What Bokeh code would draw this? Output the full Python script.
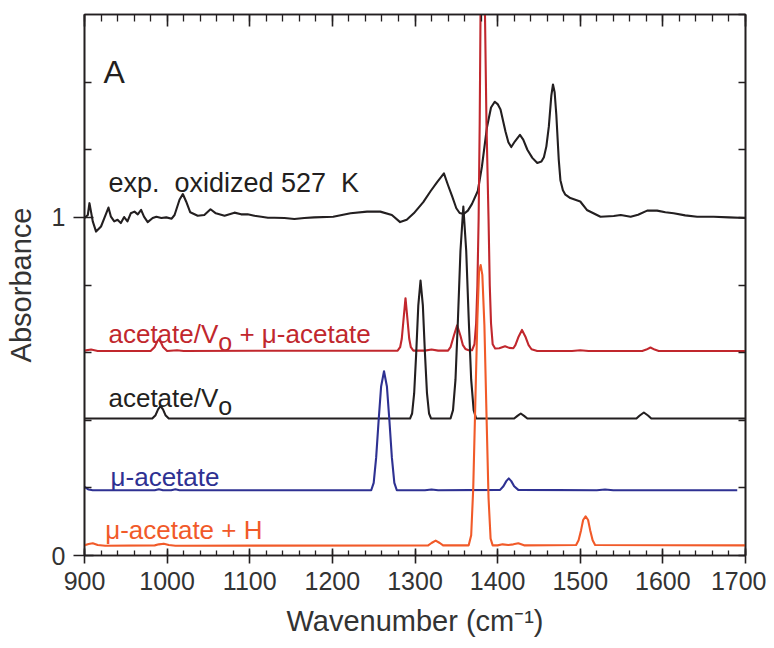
import math
from bokeh.plotting import figure
from bokeh.models import LinearAxis, FixedTicker, Label
from bokeh.embed import file_html
from bokeh.resources import INLINE

# ---------------- data ----------------
# experimental spectrum, oxidized 527 K
exp_wn = [900, 904, 906, 910, 914, 920, 924, 929, 932, 936, 940, 944, 948, 952, 956,
          960.5, 964.5, 968.5, 972, 976.5, 982.5, 987, 993, 999, 1005.5, 1009, 1015,
          1019, 1023, 1028, 1037, 1045, 1052.5, 1059, 1069.5, 1081.5, 1089.5, 1097.5,
          1105.5, 1114, 1122, 1130, 1142, 1154, 1166, 1178, 1201, 1222, 1242, 1258,
          1272, 1282, 1290, 1298.5, 1310, 1319, 1327, 1335, 1340, 1345, 1350, 1354,
          1359, 1364, 1369, 1376, 1381, 1387, 1392, 1396.5, 1400, 1403.5, 1409.5,
          1413, 1416.5, 1421, 1427, 1431, 1436, 1442, 1448, 1453, 1456, 1459, 1462,
          1465, 1467, 1469, 1471, 1474, 1476, 1479, 1482, 1488, 1500, 1508, 1524.5,
          1540.5, 1549, 1561, 1570, 1581, 1593, 1603, 1613, 1627, 1641.5, 1661.5,
          1680, 1700]
exp_abs = [0.998, 1.007, 1.042, 0.988, 0.958, 0.973, 0.998, 1.029, 1.002, 0.988, 0.993,
           0.983, 1.001, 0.988, 1.012, 1.017, 1.009, 1.022, 1.002, 0.986, 0.998, 1.002,
           0.998, 1.000, 0.996, 1.007, 1.052, 1.069, 1.047, 1.015, 1.005, 1.007, 1.024,
           1.012, 1.005, 1.014, 1.009, 1.009, 1.005, 1.002, 0.999, 0.999, 0.998, 0.995,
           0.998, 1.000, 1.002, 1.012, 1.017, 1.017, 1.007, 0.986, 0.993, 1.012, 1.045,
           1.078, 1.105, 1.130, 1.095, 1.062, 1.027, 1.013, 1.010, 1.020, 1.040, 1.078,
           1.150, 1.265, 1.325, 1.342, 1.335, 1.319, 1.254, 1.222, 1.208, 1.225, 1.244,
           1.230, 1.200, 1.176, 1.161, 1.165, 1.178, 1.210, 1.269, 1.360, 1.393, 1.370,
           1.305, 1.170, 1.110, 1.080, 1.067, 1.057, 1.047, 1.022, 1.002, 1.004, 1.007,
           1.002, 1.008, 1.020, 1.020, 1.015, 1.012, 1.006, 1.002, 1.002, 1.000, 0.998]

# simulated: acetate/Vo + mu-acetate (red)
red_wn = [900, 908, 916, 980, 985, 988, 990, 992, 995, 1000, 1012, 1020, 1279, 1282,
          1284, 1286, 1288.5, 1291, 1293, 1295, 1298, 1312, 1320, 1328, 1340, 1343,
          1347, 1351, 1355, 1358, 1361, 1365, 1369, 1372, 1374, 1375.5, 1377, 1378.3,
          1379.3, 1380.6, 1382, 1383.4, 1384.7, 1386.5, 1389, 1390.5, 1392, 1394, 1397,
          1402, 1409, 1414, 1419, 1421.5, 1425.5, 1429.5, 1433.5, 1437.5, 1441, 1448,
          1490, 1500, 1510, 1575, 1580, 1585, 1590, 1595, 1700]
red_abs = [0.606, 0.609, 0.605, 0.605, 0.617, 0.633, 0.640, 0.633, 0.617, 0.605, 0.607,
           0.605, 0.606, 0.616, 0.641, 0.695, 0.761, 0.695, 0.641, 0.616, 0.606, 0.606,
           0.609, 0.606, 0.606, 0.616, 0.650, 0.681, 0.650, 0.622, 0.611, 0.607, 0.607,
           0.625, 0.687, 0.798, 0.995, 1.278, 1.600, 1.863, 1.965, 1.863, 1.600, 1.278,
           0.995, 0.798, 0.687, 0.625, 0.612, 0.613, 0.619, 0.614, 0.613, 0.622, 0.648,
           0.667, 0.648, 0.622, 0.610, 0.605, 0.605, 0.607, 0.605, 0.605, 0.609, 0.615,
           0.609, 0.605, 0.605]

# simulated: acetate/Vo (black)
blk_wn = [900, 982, 986, 989, 992, 995, 998, 1002, 1294, 1296.5, 1299, 1301.5, 1304,
          1306.7, 1309.5, 1312, 1314.5, 1317, 1319.5, 1343, 1346, 1349, 1352, 1355,
          1358.5, 1362, 1365, 1368, 1371, 1374, 1420, 1424, 1428, 1432, 1436, 1568,
          1572, 1577, 1582, 1586, 1700]
blk_abs = [0.405, 0.405, 0.415, 0.432, 0.442, 0.432, 0.415, 0.405, 0.405, 0.420, 0.480,
           0.600, 0.740, 0.813, 0.740, 0.600, 0.480, 0.420, 0.405, 0.405, 0.430, 0.520,
           0.700, 0.900, 1.032, 0.900, 0.700, 0.520, 0.430, 0.405, 0.405, 0.413, 0.420,
           0.413, 0.405, 0.405, 0.414, 0.423, 0.414, 0.405, 0.405]

# simulated: mu-acetate (blue)
blu_wn = [900, 905, 910, 985, 990, 995, 1005, 1010, 1015, 1247, 1250, 1253, 1256, 1259,
          1262.5, 1266, 1269, 1272, 1275, 1278, 1312, 1320, 1328, 1403, 1407, 1410.5,
          1413.5, 1416.5, 1420, 1425, 1520, 1530, 1540, 1690]
blu_abs = [0.203, 0.195, 0.193, 0.193, 0.196, 0.193, 0.193, 0.196, 0.193, 0.193, 0.215,
           0.290, 0.400, 0.500, 0.545, 0.500, 0.400, 0.290, 0.215, 0.193, 0.193, 0.195,
           0.193, 0.194, 0.205, 0.220, 0.228, 0.220, 0.205, 0.194, 0.193, 0.195, 0.193,
           0.193]

# simulated: mu-acetate + H (orange)
org_wn = [900, 905, 910, 916, 925, 985, 990, 996, 1002, 1010, 1316, 1320, 1325, 1330,
          1334, 1365, 1368, 1370.5, 1373, 1375.5, 1377.5, 1379.5, 1381.5, 1384, 1386.5,
          1389, 1391.5, 1394, 1400, 1406, 1413, 1419, 1425, 1432, 1495, 1498, 1501,
          1503.5, 1506.5, 1509.5, 1512, 1515, 1518, 1700]
org_abs = [0.030, 0.034, 0.036, 0.031, 0.029, 0.030, 0.033, 0.035, 0.031, 0.029, 0.030,
           0.037, 0.044, 0.037, 0.030, 0.030, 0.060, 0.200, 0.450, 0.700, 0.840, 0.859,
           0.830, 0.680, 0.420, 0.170, 0.050, 0.030, 0.030, 0.033, 0.031, 0.033, 0.036,
           0.030, 0.031, 0.045, 0.075, 0.105, 0.116, 0.105, 0.075, 0.045, 0.031, 0.030]

x_major = [900, 1000, 1100, 1200, 1300, 1400, 1500, 1600, 1700]
y_labeled = [0, 1]
y_minor = [0.2, 0.4, 0.6, 0.8, 1.2, 1.4]
y_all = [0, 0.2, 0.4, 0.6, 0.8, 1.0, 1.2, 1.4, 1.6]

# ---------------- styling ----------------
FONT = "Liberation Sans"
INK = "#231f20"
C_RED = "#c1272d"
C_BLUE = "#2e3192"
C_ORANGE = "#f15a29"

x_minor = [v for v in range(900, 1701, 20)]

p = figure(width=766, height=640, x_range=(900, 1700), y_range=(0, 1.6),
           x_axis_type=None, y_axis_type=None,
           output_backend="svg", toolbar_location=None,
           min_border_left=84, min_border_right=21, min_border_top=14,
           min_border_bottom=85)
p.background_fill_color = "white"
p.border_fill_color = "white"
p.outline_line_color = INK
p.outline_line_width = 1.6

common = dict(axis_line_color=INK, axis_line_width=1.6,
              major_tick_line_color=INK, major_tick_line_width=1.6,
              minor_tick_line_color=INK, minor_tick_line_width=1.3,
              major_label_text_font=FONT, major_label_text_color="#333333")

bottom = LinearAxis(ticker=FixedTicker(ticks=x_major, minor_ticks=x_minor),
                    major_tick_in=7, major_tick_out=8, minor_tick_in=5, minor_tick_out=0,
                    major_label_text_font_size="25px", major_label_standoff=8,
                    axis_label="Wavenumber (cm\u207b\u00b9)",
                    axis_label_text_font=FONT, axis_label_text_font_size="29px",
                    axis_label_text_font_style="normal", axis_label_text_color="#333333",
                    axis_label_standoff=12, **common)
p.add_layout(bottom, "below")

left = LinearAxis(ticker=FixedTicker(ticks=y_labeled, minor_ticks=y_minor),
                  major_tick_in=9, major_tick_out=11, minor_tick_in=7, minor_tick_out=0,
                  major_label_text_font_size="25px", major_label_standoff=8,
                  axis_label="Absorbance", axis_label_text_font=FONT,
                  axis_label_text_font_size="29px", axis_label_text_font_style="normal",
                  axis_label_text_color="#333333", axis_label_standoff=12, **common)
p.add_layout(left, "left")

top = LinearAxis(ticker=FixedTicker(ticks=x_major, minor_ticks=x_minor),
                 major_tick_in=12, major_tick_out=0, minor_tick_in=7, minor_tick_out=0,
                 major_label_text_font_size="1px", major_label_standoff=0,
                 major_label_overrides={v: "" for v in x_major}, **common)
p.add_layout(top, "above")

right = LinearAxis(ticker=FixedTicker(ticks=y_all, minor_ticks=[]),
                   major_tick_in=7, major_tick_out=0,
                   major_label_text_font_size="1px", major_label_standoff=0,
                   major_label_overrides={v: "" for v in y_all}, **common)
p.add_layout(right, "right")

lw = 2.1
p.line(exp_wn, exp_abs, line_color=INK, line_width=lw, line_join="round")
p.line(red_wn, red_abs, line_color=C_RED, line_width=lw, line_join="round")
p.line(blk_wn, blk_abs, line_color=INK, line_width=lw, line_join="round")
p.line(blu_wn, blu_abs, line_color=C_BLUE, line_width=lw, line_join="round")
p.line(org_wn, org_abs, line_color=C_ORANGE, line_width=lw, line_join="round")

# ---------------- annotations ----------------
def lab(text, x, y, color, size="26px", dx=0, dy=0, **kw):
    p.add_layout(Label(x=x, y=y, text=text, text_color=color, text_font=FONT,
                       text_font_size=size, text_baseline="alphabetic",
                       x_offset=dx, y_offset=dy, **kw))

lab("A", 923, 1.431, INK, size="32px")
lab("exp.\u00a0 oxidized 527\u00a0 K", 929, 1.102, INK, size="27px")

W_ACV = 109.9   # width of "acetate/V" at 26px
W_O = 13.9      # width of subscript "o"
W_SP = 7.2      # width of a space
lab("acetate/V", 929, 0.655, C_RED)
lab("o", 929, 0.655, C_RED, size="25px", dx=W_ACV, dy=-8)
lab("+ \u03bc-acetate", 929, 0.655, C_RED, dx=W_ACV + W_O + W_SP)

lab("acetate/V", 929, 0.465, INK)
lab("o", 929, 0.465, INK, size="25px", dx=W_ACV, dy=-8)

lab("\u03bc-acetate", 931.5, 0.231, C_BLUE)
lab("\u03bc-acetate + H", 925, 0.074, C_ORANGE)

open("out.html", "w").write(file_html(p, INLINE))
